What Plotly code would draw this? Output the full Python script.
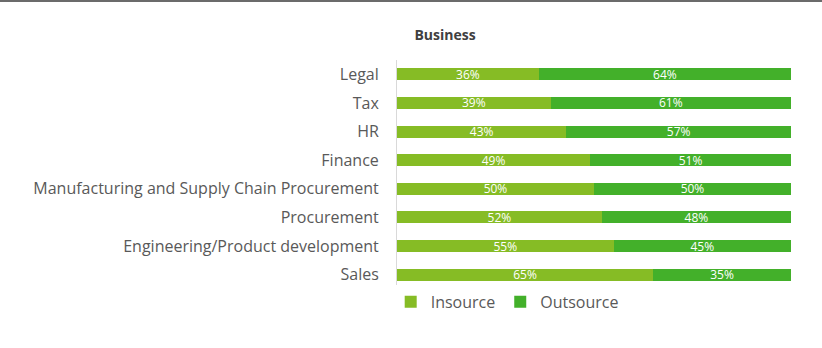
import plotly.graph_objects as go

categories = [
    "Legal",
    "Tax",
    "HR",
    "Finance",
    "Manufacturing and Supply Chain Procurement",
    "Procurement",
    "Engineering/Product development",
    "Sales",
]
insource = [36, 39, 43, 49, 50, 52, 55, 65]
outsource = [64, 61, 57, 51, 50, 48, 45, 35]

INSOURCE_COLOR = "#86BC25"
OUTSOURCE_COLOR = "#43B02A"
FONT = "Open Sans, sans-serif"

fig = go.Figure()
for name, vals, color in [
    ("Insource", insource, INSOURCE_COLOR),
    ("Outsource", outsource, OUTSOURCE_COLOR),
]:
    fig.add_trace(go.Bar(
        y=categories,
        x=vals,
        name=name,
        orientation="h",
        marker=dict(color=color, line=dict(width=0)),
        text=[f"{v}%" for v in vals],
        textposition="inside",
        insidetextanchor="middle",
        constraintext="none",
        textfont=dict(color="white", size=12, family=FONT),
        width=0.42,
    ))

# thin rule across the top of the page
fig.add_shape(type="line", xref="paper", yref="paper",
              x0=-1.01, x1=1.08, y0=1.258, y1=1.258,
              line=dict(color="#6b6b6b", width=2))

fig.update_layout(
    barmode="stack",
    width=822,
    height=348,
    margin=dict(l=397, r=31, t=60, b=59),
    paper_bgcolor="white",
    plot_bgcolor="white",
    font=dict(family=FONT, color="#595959"),
    title=dict(text="<b>Business</b>", x=445 / 822, xanchor="center",
               y=1 - 35 / 348, yanchor="middle",
               font=dict(size=14, color="#404040", family=FONT)),
    xaxis=dict(range=[0, 100], showgrid=False, showticklabels=False,
               zeroline=False, showline=False),
    yaxis=dict(autorange="reversed", showgrid=False, ticks="",
               showline=True, linecolor="#d9d9d9", linewidth=1,
               tickfont=dict(size=16, color="#595959", family=FONT),
               ticklabelstandoff=14),
    legend=dict(orientation="h", x=-0.016, xanchor="left", y=0.018, yanchor="top",
                font=dict(size=16, color="#595959", family=FONT),
                itemwidth=30, traceorder="normal"),
    showlegend=True,
    bargap=0.58,
)

fig.write_html("out.html")
